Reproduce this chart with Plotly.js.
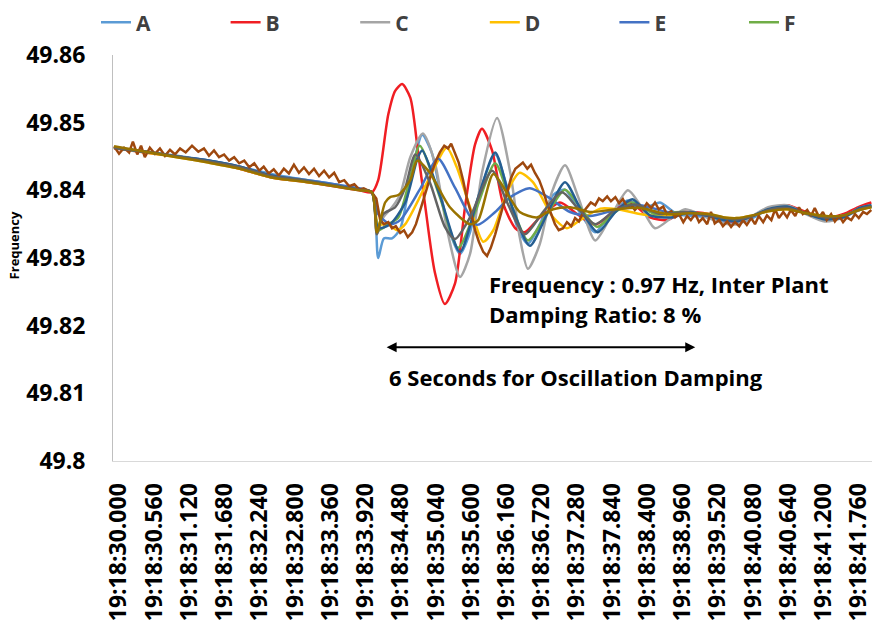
<!DOCTYPE html>
<html>
<head>
<meta charset="utf-8">
<script src="https://cdn.plot.ly/plotly-3.0.1.min.js"></script>
<style>html,body{margin:0;padding:0;background:#fff}</style>
</head>
<body>
<div id="chart" style="width:874px;height:626px"></div>
<script>
// time in seconds after 19:18:30.000, frequency in Hz
const tickVals = [0, 0.56, 1.12, 1.68, 2.24, 2.80, 3.36, 3.92, 4.48, 5.04, 5.60, 6.16, 6.72, 7.28, 7.84, 8.40, 8.96, 9.52, 10.08, 10.64, 11.20, 11.76];
const tickLabels = ["19:18:30.000","19:18:30.560","19:18:31.120","19:18:31.680","19:18:32.240","19:18:32.800","19:18:33.360","19:18:33.920","19:18:34.480","19:18:35.040","19:18:35.600","19:18:36.160","19:18:36.720","19:18:37.280","19:18:37.840","19:18:38.400","19:18:38.960","19:18:39.520","19:18:40.080","19:18:40.640","19:18:41.200","19:18:41.760"];

const tPre  = [0, 0.5, 1.0, 1.5, 2.0, 2.5, 3.0, 3.5, 3.9];
const tPost = [9.45, 9.7, 9.9, 10.15, 10.4, 10.7, 11.0, 11.3, 11.6, 11.85, 12.04];

// Series A
const A_pre  = [49.8463, 49.8457, 49.8451, 49.8444, 49.8435, 49.8424, 49.8416, 49.8409, 49.8401];
const A_mid  = [[4.10,49.8397],[4.20,49.8300],[4.29,49.8329],[4.42,49.8329],[4.55,49.8343],[4.71,49.8415],[4.90,49.8482],[5.05,49.8456],[5.18,49.8400],[5.34,49.8338],[5.50,49.8306],[5.66,49.8338],[5.79,49.8390],[6.06,49.8453],[6.25,49.8404],[6.41,49.8346],[6.58,49.8321],[6.77,49.8350],[6.98,49.8393],[7.17,49.8401],[7.38,49.8371],[7.65,49.8338],[7.89,49.8365],[8.17,49.8385],[8.44,49.8374],[8.68,49.8382],[8.95,49.8365]];
const A_post = [49.8360, 49.8353, 49.8351, 49.8359, 49.8371, 49.8376, 49.8366, 49.8357, 49.8360, 49.8372, 49.8378];

// Series B
const B_pre  = [49.8462, 49.8456, 49.8450, 49.8443, 49.8432, 49.8419, 49.8413, 49.8406, 49.8400];
const B_mid  = [[4.10,49.8397],[4.20,49.8415],[4.36,49.8512],[4.47,49.8547],[4.58,49.8557],[4.71,49.8537],[4.83,49.8459],[4.94,49.8382],[5.10,49.8279],[5.26,49.8232],[5.42,49.8262],[5.58,49.8375],[5.74,49.8468],[5.85,49.8491],[6.01,49.8459],[6.18,49.8382],[6.38,49.8344],[6.53,49.8338],[6.77,49.8360],[7.09,49.8382],[7.36,49.8365],[7.65,49.8349],[7.97,49.8371],[8.20,49.8382],[8.52,49.8360],[8.79,49.8356],[9.05,49.8368]];
const B_post = [49.8365, 49.8356, 49.8354, 49.8362, 49.8372, 49.8378, 49.8368, 49.8359, 49.8365, 49.8376, 49.8382];

// Series C
const C_pre  = [49.8463, 49.8457, 49.8450, 49.8443, 49.8434, 49.8421, 49.8415, 49.8407, 49.8401];
const C_mid  = [[4.10,49.8397],[4.18,49.8335],[4.28,49.8360],[4.42,49.8375],[4.55,49.8394],[4.71,49.8449],[4.91,49.8484],[5.10,49.8441],[5.31,49.8335],[5.50,49.8272],[5.66,49.8306],[5.85,49.8426],[6.09,49.8507],[6.30,49.8426],[6.45,49.8331],[6.58,49.8284],[6.77,49.8321],[6.96,49.8397],[7.17,49.8437],[7.38,49.8390],[7.65,49.8326],[7.89,49.8360],[8.17,49.8400],[8.36,49.8379],[8.60,49.8344],[8.87,49.8360],[9.08,49.8372]];
const C_post = [49.8359, 49.8351, 49.8350, 49.8362, 49.8375, 49.8378, 49.8365, 49.8354, 49.8360, 49.8374, 49.8378];

// Series D
const D_pre  = [49.8463, 49.8456, 49.8449, 49.8441, 49.8432, 49.8419, 49.8413, 49.8407, 49.8401];
const D_mid  = [[4.10,49.8397],[4.20,49.8350],[4.36,49.8350],[4.50,49.8341],[4.63,49.8350],[4.98,49.8412],[5.29,49.8463],[5.45,49.8434],[5.66,49.8375],[5.87,49.8324],[6.03,49.8341],[6.26,49.8400],[6.45,49.8426],[6.66,49.8412],[6.98,49.8360],[7.20,49.8344],[7.41,49.8356],[7.73,49.8373],[8.00,49.8372],[8.36,49.8365],[8.68,49.8362],[9.00,49.8365]];
const D_post = [49.8365, 49.8360, 49.8359, 49.8363, 49.8369, 49.8372, 49.8366, 49.8362, 49.8363, 49.8371, 49.8375];

// Series E
const E_pre  = [49.8463, 49.8457, 49.8450, 49.8444, 49.8435, 49.8422, 49.8416, 49.8409, 49.8403];
const E_mid  = [[4.10,49.8397],[4.20,49.8365],[4.39,49.8350],[4.55,49.8356],[4.86,49.8401],[5.15,49.8447],[5.42,49.8404],[5.77,49.8349],[6.06,49.8368],[6.30,49.8390],[6.61,49.8403],[6.90,49.8390],[7.25,49.8368],[7.57,49.8362],[7.97,49.8371],[8.36,49.8378],[8.79,49.8368],[9.16,49.8365]];
const E_post = [49.8362, 49.8357, 49.8356, 49.8362, 49.8371, 49.8374, 49.8366, 49.8360, 49.8362, 49.8371, 49.8376];

// Series F
const F_pre  = [49.8463, 49.8457, 49.8450, 49.8443, 49.8434, 49.8421, 49.8415, 49.8407, 49.8401];
const F_mid  = [[4.10,49.8397],[4.20,49.8341],[4.36,49.8350],[4.52,49.8360],[4.71,49.8419],[4.86,49.8466],[5.18,49.8390],[5.47,49.8315],[5.74,49.8368],[6.06,49.8440],[6.33,49.8375],[6.58,49.8326],[6.85,49.8360],[7.17,49.8401],[7.41,49.8375],[7.68,49.8346],[7.97,49.8368],[8.24,49.8382],[8.60,49.8365],[9.00,49.8368]];
const F_post = [49.8363, 49.8357, 49.8356, 49.8362, 49.8371, 49.8375, 49.8366, 49.8359, 49.8362, 49.8372, 49.8376];

// Series G (not in visible legend)
const G_pre  = [49.8463, 49.8457, 49.8450, 49.8444, 49.8435, 49.8422, 49.8415, 49.8407, 49.8401];
const G_mid  = [[4.10,49.8397],[4.20,49.8344],[4.39,49.8350],[4.63,49.8382],[4.83,49.8449],[4.90,49.8459],[5.18,49.8393],[5.50,49.8309],[5.79,49.8390],[6.06,49.8456],[6.33,49.8375],[6.61,49.8318],[6.90,49.8368],[7.17,49.8412],[7.44,49.8368],[7.69,49.8338],[7.97,49.8368],[8.24,49.8387],[8.52,49.8363],[8.87,49.8360],[9.16,49.8368]];
const G_post = [49.8362, 49.8356, 49.8354, 49.8362, 49.8372, 49.8376, 49.8366, 49.8357, 49.8360, 49.8374, 49.8378];

// Series H (noisy, not in visible legend)
const H_points = [[0.00,49.8465],[0.08,49.8454],[0.16,49.8463],[0.24,49.8456],[0.30,49.8472],[0.37,49.8453],[0.43,49.8466],[0.49,49.8449],[0.57,49.8463],[0.65,49.8454],
[0.73,49.8462],[0.81,49.8451],[0.89,49.8460],[0.97,49.8453],[1.05,49.8462],[1.14,49.8456],[1.24,49.8466],[1.34,49.8457],[1.43,49.8462],[1.51,49.8451],
[1.59,49.8459],[1.67,49.8449],[1.75,49.8453],[1.83,49.8444],[1.91,49.8449],[1.99,49.8440],[2.07,49.8444],[2.15,49.8434],[2.23,49.8440],[2.31,49.8429],
[2.38,49.8435],[2.46,49.8425],[2.54,49.8431],[2.62,49.8422],[2.70,49.8432],[2.78,49.8425],[2.86,49.8438],[2.94,49.8426],[3.02,49.8434],[3.10,49.8424],
[3.18,49.8432],[3.26,49.8421],[3.34,49.8429],[3.42,49.8419],[3.50,49.8426],[3.58,49.8412],[3.66,49.8415],[3.74,49.8406],[3.82,49.8409],[3.90,49.8401],
[3.97,49.8403],[4.05,49.8399],[4.10,49.8397],[4.17,49.8388],[4.23,49.8357],[4.29,49.8350],[4.36,49.8353],[4.42,49.8344],[4.48,49.8347],[4.55,49.8337],
[4.61,49.8341],[4.67,49.8331],[4.74,49.8338],[4.80,49.8350],[4.86,49.8368],[4.93,49.8388],[4.99,49.8409],[5.06,49.8429],[5.12,49.8444],[5.18,49.8456],
[5.25,49.8466],[5.31,49.8462],[5.36,49.8469],[5.42,49.8456],[5.48,49.8441],[5.55,49.8415],[5.61,49.8388],[5.68,49.8365],[5.74,49.8341],[5.80,49.8324],
[5.87,49.8309],[5.93,49.8303],[5.99,49.8315],[6.06,49.8335],[6.12,49.8356],[6.18,49.8375],[6.25,49.8397],[6.31,49.8418],[6.38,49.8432],[6.44,49.8437],
[6.50,49.8441],[6.57,49.8432],[6.63,49.8438],[6.69,49.8426],[6.76,49.8415],[6.82,49.8400],[6.88,49.8382],[6.95,49.8365],[7.01,49.8350],[7.07,49.8341],
[7.14,49.8344],[7.20,49.8353],[7.27,49.8347],[7.33,49.8359],[7.39,49.8354],[7.46,49.8368],[7.52,49.8375],[7.58,49.8382],[7.65,49.8378],[7.71,49.8388],
[7.77,49.8384],[7.84,49.8391],[7.90,49.8384],[7.97,49.8390],[8.03,49.8381],[8.09,49.8387],[8.16,49.8375],[8.22,49.8379],[8.28,49.8371],[8.35,49.8378],
[8.41,49.8372],[8.47,49.8381],[8.54,49.8374],[8.60,49.8382],[8.66,49.8372],[8.73,49.8376],[8.79,49.8365],[8.86,49.8369],[8.92,49.8360],[8.98,49.8365],
[9.05,49.8353],[9.11,49.8362],[9.17,49.8356],[9.24,49.8365],[9.30,49.8353],[9.36,49.8359],[9.43,49.8350],[9.49,49.8368],[9.55,49.8351],[9.62,49.8356],
[9.68,49.8347],[9.75,49.8354],[9.81,49.8346],[9.87,49.8353],[9.94,49.8347],[10.00,49.8356],[10.06,49.8349],[10.13,49.8359],[10.19,49.8350],[10.25,49.8362],
[10.32,49.8353],[10.38,49.8363],[10.45,49.8356],[10.51,49.8372],[10.57,49.8359],[10.64,49.8368],[10.70,49.8360],[10.76,49.8371],[10.83,49.8362],[10.89,49.8375],
[10.95,49.8365],[11.02,49.8371],[11.08,49.8362],[11.14,49.8374],[11.21,49.8360],[11.27,49.8368],[11.33,49.8356],[11.40,49.8365],[11.46,49.8354],[11.53,49.8362],
[11.59,49.8353],[11.65,49.8360],[11.72,49.8356],[11.78,49.8365],[11.84,49.8359],[11.91,49.8368],[11.97,49.8365],[12.04,49.8371]];

// Series I (not in visible legend)
const I_pre  = [49.8463, 49.8457, 49.8450, 49.8443, 49.8434, 49.8421, 49.8415, 49.8407, 49.8401];
const I_mid  = [[4.10,49.8397],[4.18,49.8335],[4.28,49.8365],[4.47,49.8375],[4.63,49.8404],[4.79,49.8453],[5.02,49.8412],[5.26,49.8346],[5.42,49.8328],[5.66,49.8360],[6.01,49.8429],[6.25,49.8382],[6.53,49.8335],[6.82,49.8368],[7.12,49.8397],[7.36,49.8375],[7.65,49.8350],[7.97,49.8371],[8.28,49.8379],[8.68,49.8365],[9.08,49.8368]];
const I_post = [49.8363, 49.8359, 49.8357, 49.8362, 49.8371, 49.8374, 49.8366, 49.8360, 49.8363, 49.8372, 49.8376];

// Series J (not in visible legend)
const J_pre  = [49.8465, 49.8457, 49.8449, 49.8441, 49.8432, 49.8419, 49.8413, 49.8406, 49.8400];
const J_mid  = [[4.10,49.8397],[4.18,49.8338],[4.31,49.8382],[4.39,49.8390],[4.52,49.8393],[4.71,49.8415],[4.82,49.8444],[5.02,49.8426],[5.34,49.8375],[5.66,49.8350],[5.79,49.8356],[6.03,49.8424],[6.26,49.8394],[6.45,49.8368],[6.72,49.8360],[6.98,49.8372],[7.25,49.8375],[7.57,49.8368],[7.97,49.8372],[8.36,49.8374],[8.79,49.8365],[9.16,49.8366]];
const J_post = [49.8365, 49.8360, 49.8359, 49.8363, 49.8369, 49.8372, 49.8366, 49.8362, 49.8363, 49.8371, 49.8375];

const seriesNames  = ["A","B","C","D","E","F","G","H","I","J"];
const seriesColors = ["#5B9BD5","#F01E23","#A5A5A5","#FFC000","#4472C4","#70AD47","#255E91","#9E480E","#636363","#997300"];

function smooth(pre, mid, post) {
  return {
    x: tPre.concat(mid.map(p => p[0]), tPost),
    y: pre.concat(mid.map(p => p[1]), post)
  };
}
const built = [
  smooth(A_pre, A_mid, A_post),
  smooth(B_pre, B_mid, B_post),
  smooth(C_pre, C_mid, C_post),
  smooth(D_pre, D_mid, D_post),
  smooth(E_pre, E_mid, E_post),
  smooth(F_pre, F_mid, F_post),
  smooth(G_pre, G_mid, G_post),
  {x: H_points.map(p => p[0]), y: H_points.map(p => p[1])},
  smooth(I_pre, I_mid, I_post),
  smooth(J_pre, J_mid, J_post)
];

const traces = built.map((d, i) => ({
  type: 'scatter', mode: 'lines', name: seriesNames[i],
  x: d.x, y: d.y,
  showlegend: i < 6,
  line: {color: seriesColors[i], width: 2.5,
         shape: seriesNames[i] === 'H' ? 'linear' : 'spline', smoothing: 0.7},
  hoverinfo: 'skip'
}));

const FONT = '"Open Sans", "DejaVu Sans", sans-serif';
const layout = {
  width: 874, height: 626,
  margin: {l: 113, r: 2, t: 52, b: 165, pad: 0},
  paper_bgcolor: '#ffffff', plot_bgcolor: '#ffffff',
  font: {family: FONT, color: '#000000'},
  xaxis: {
    range: [-0.016, 12.05], tickmode: 'array', tickvals: tickVals, ticktext: tickLabels,
    tickangle: -90, tickfont: {family: FONT, size: 23, weight: 700, color: '#000000'},
    showgrid: false, zeroline: false, showline: true, linecolor: '#D9D9D9', linewidth: 1,
    ticks: '', ticklabelstandoff: 12, ticklabelshift: 5, ticklabeloverflow: 'allow', fixedrange: true
  },
  yaxis: {
    range: [49.8, 49.86], tickmode: 'linear', tick0: 49.8, dtick: 0.01,
    tickfont: {family: FONT, size: 23, weight: 700, color: '#000000'},
    showgrid: false, zeroline: false, showline: true, linecolor: '#BFBFBF', linewidth: 1,
    ticks: '', ticklabelstandoff: 22, fixedrange: true
  },
  showlegend: true,
  legend: {
    orientation: 'h', xref: 'paper', yref: 'paper', x: -0.02, y: 1.13, xanchor: 'left', yanchor: 'top',
    font: {family: FONT, size: 21, weight: 700, color: '#404040'},
    entrywidth: 84.6, entrywidthmode: 'pixels', itemwidth: 30, bgcolor: 'rgba(0,0,0,0)',
    traceorder: 'normal'
  },
  annotations: [
    {xref: 'paper', yref: 'paper', x: -0.131, y: 0.53, xanchor: 'center', yanchor: 'middle', text: 'Frequency', textangle: -90, showarrow: false,
     font: {family: FONT, size: 13, weight: 700, color: '#000000'}},
    {xref: 'paper', yref: 'paper', x: 0.4928, y: 0.437, xanchor: 'left', yanchor: 'middle', text: 'Frequency : 0.97 Hz, Inter Plant', showarrow: false,
     font: {family: FONT, size: 22, weight: 700, color: '#000000'}},
    {xref: 'paper', yref: 'paper', x: 0.4928, y: 0.361, xanchor: 'left', yanchor: 'middle', text: 'Damping Ratio: 8 %', showarrow: false,
     font: {family: FONT, size: 22, weight: 700, color: '#000000'}},
    {xref: 'paper', yref: 'paper', x: 0.361, y: 0.208, xanchor: 'left', yanchor: 'middle', text: '6 Seconds for Oscillation Damping', showarrow: false,
     font: {family: FONT, size: 22, weight: 700, color: '#000000'}},
    {xref: 'x', yref: 'y', x: 9.24, y: 49.8168, axref: 'x', ayref: 'y', ax: 4.31, ay: 49.8168, text: '',
     showarrow: true, arrowside: 'end+start', arrowhead: 2, arrowsize: 1, arrowwidth: 2, arrowcolor: '#000000'}
  ]
};

Plotly.newPlot('chart', traces, layout, {staticPlot: true, displayModeBar: false});
</script>
</body>
</html>
